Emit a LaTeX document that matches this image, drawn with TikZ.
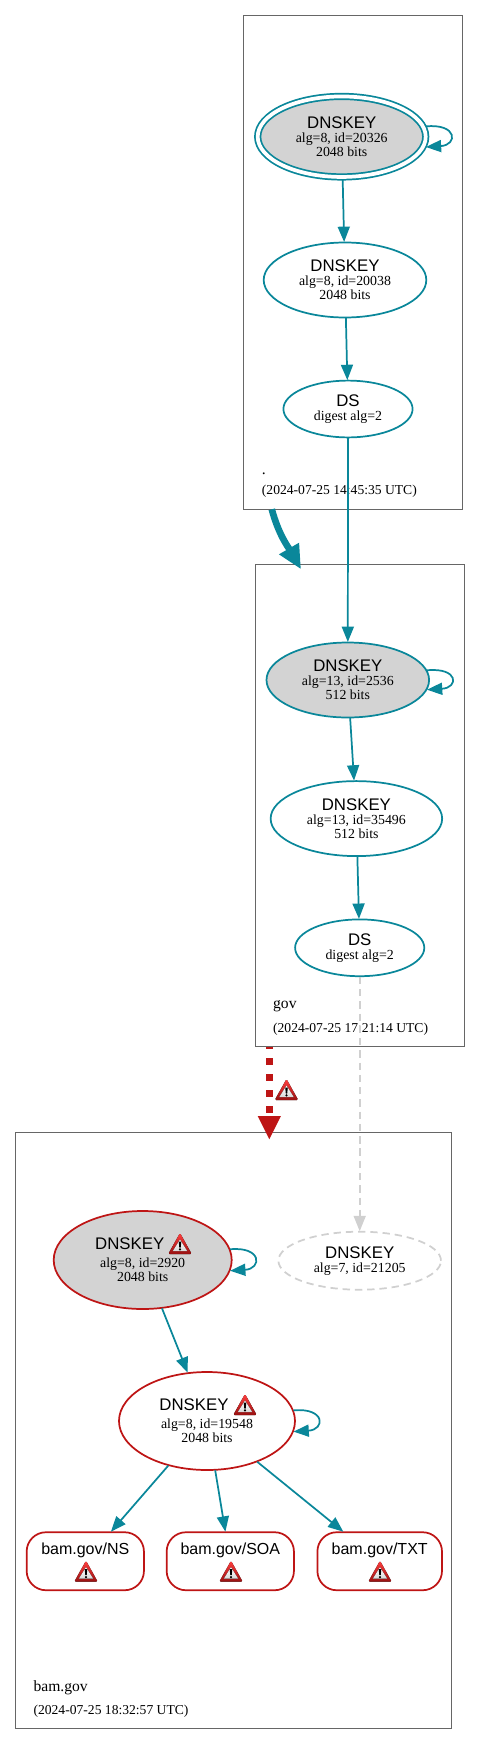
\documentclass[tikz,border=0pt]{standalone}
\usepackage{fontspec}
\setmainfont{Liberation Serif}
\newfontfamily\keyfont{Liberation Sans}
\usetikzlibrary{arrows.meta,shapes.geometric}
\definecolor{secure}{HTML}{0A879A}
\definecolor{bogus}{HTML}{BE1515}
\definecolor{faded}{HTML}{D0D0D0}
\definecolor{keyfill}{HTML}{D3D3D3}
\newcommand{\keyhead}[1]{{\keyfont\fontsize{12.6}{14}\selectfont #1}}
\newcommand{\keytext}[3]{\keyhead{#1}\\#2\\#3}
\newcommand{\warnkeytext}[3]{\keyhead{#1}\rule{19.5pt}{0pt}\\[3pt]#2\\#3}
\newcommand{\dstext}[2]{\keyhead{#1}\\#2}
\newcommand{\rrtext}[1]{{\keyfont\fontsize{12}{14}\selectfont #1}\\\rule[-6.6pt]{0pt}{6.6pt}}
\begin{document}
\begin{tikzpicture}[x=0.75pt, y=-0.75pt, >={Triangle[length=11.5pt, width=9pt]},
  zonebox/.style={draw=black!60, line width=0.7pt, inner sep=0pt},
  keynode/.style={ellipse, draw=secure, line width=1.3pt, inner sep=0pt, outer sep=0.4pt, align=center, font=\fontsize{10.4}{10.5}\selectfont, minimum width=162.6*0.75pt, minimum height=75*0.75pt},
  dsnode/.style={keynode, minimum width=129.2*0.75pt, minimum height=56.8*0.75pt},
  badkey/.style={keynode, draw=bogus, minimum width=178*0.75pt, minimum height=98*0.75pt},
  rrset/.style={rectangle, rounded corners=14.5pt, draw=bogus, line width=1.3pt, inner sep=0pt, outer sep=0.4pt, align=center, anchor=north, minimum height=58*0.75pt},
  zonename/.style={inner sep=0pt, anchor=base west, font=\fontsize{11.7}{12}\selectfont},
  zonedate/.style={inner sep=0pt, anchor=base west, font=\fontsize{10.2}{11}\selectfont},
  link/.style={->, draw=secure, line width=1.3pt},
  fadedash/.style={draw=faded, line width=1.3pt, dash pattern=on 5.5pt off 3.7pt},
  warnicon/.pic={
    \fill[rounded corners=1pt, top color=red!75!white, bottom color=bogus!80!black] (0,-21) -- (11.7,0) -- (-11.7,0) -- cycle;
    \fill[top color=white, bottom color=black!15] (0,-14.5) -- (7.2,-3) -- (-7.2,-3) -- cycle;
    \fill[black] (-1.3,-12.5) -- (1.3,-12.5) -- (0.7,-6.5) -- (-0.7,-6.5) -- cycle;
    \fill[black] (0,-4.6) circle (1.2);
  }]
  \useasboundingbox (0,0) rectangle (480,1745);
  \node[zonebox, minimum width=163.95pt, minimum height=370.2pt] (rootzone) at (353,262.5) {};
  \node[zonebox, minimum width=156.2pt, minimum height=361.8pt] (govzone) at (359.85,805.5) {};
  \node[zonebox, minimum width=327.2pt, minimum height=447.3pt] (bamzone) at (233.6,1430.5) {};

  \node[keynode, fill=keyfill, double, double distance=2.8pt, outer sep=2pt, minimum width=168*0.75pt, minimum height=80.5*0.75pt] (rootksk) at (341.7,136.7) {\keytext{DNSKEY}{alg=8, id=20326}{2048 bits}};
  \node[keynode] (rootzsk) at (345,280) {\keytext{DNSKEY}{alg=8, id=20038}{2048 bits}};
  \node[dsnode] (rootds) at (348,409) {\dstext{DS}{digest alg=2}};
  \node[zonename] (rootname) at (261.7,474) {.};
  \node[zonedate] (rootdate) at (261.7,494.5) {(2024-07-25 14:45:35 UTC)};

  \node[keynode, fill=keyfill] (govksk) at (347.8,680) {\keytext{DNSKEY}{alg=13, id=2536}{512 bits}};
  \node[keynode, minimum width=171.5*0.75pt] (govzsk) at (356.4,818.6) {\keytext{DNSKEY}{alg=13, id=35496}{512 bits}};
  \node[dsnode] (govds) at (359.7,947.8) {\dstext{DS}{digest alg=2}};
  \node[zonename] (govname) at (272.9,1008.5) {gov};
  \node[zonedate] (govdate) at (272.9,1032) {(2024-07-25 17:21:14 UTC)};

  \node[badkey, fill=keyfill] (bamksk) at (142.7,1260) {\warnkeytext{DNSKEY}{alg=8, id=2920}{2048 bits}};
  \node[keynode, fadedash, minimum height=58*0.75pt] (bamold) at (359.7,1260.7) {\dstext{DNSKEY}{alg=7, id=21205}};
  \node[badkey, minimum width=176*0.75pt] (bamzsk) at (207,1421) {\warnkeytext{DNSKEY}{alg=8, id=19548}{2048 bits}};
  \node[rrset, minimum width=117.3*0.75pt] (bamns) at (85.3,1531.7) {\rrtext{bam.gov/NS}};
  \node[rrset, minimum width=127.3*0.75pt] (bamsoa) at (230.3,1531.7) {\rrtext{bam.gov/SOA}};
  \node[rrset, minimum width=124.6*0.75pt] (bamtxt) at (379.7,1531.7) {\rrtext{bam.gov/TXT}};
  \node[zonename] (bamname) at (33.3,1691) {bam.gov};
  \node[zonedate] (bamdate) at (33.3,1714) {(2024-07-25 18:32:57 UTC)};

  \pic at (286.5,1100) {warnicon};
  \pic at (180,1254) {warnicon};
  \pic at (245,1415) {warnicon};
  \pic at (86,1581.7) {warnicon};
  \pic at (231,1581.7) {warnicon};
  \pic at (380,1581.7) {warnicon};

  \foreach \n in {rootksk,govksk,bamksk,bamzsk}
    \draw[link] (\n.7) .. controls +(32,-3) and +(32,-2) .. (\n.-7);

  \draw[link] (rootksk) -- (rootzsk);
  \draw[link] (rootzsk) -- (rootds);
  \draw[link] (rootds) -- (govksk);
  \draw[link] (govksk) -- (govzsk);
  \draw[link] (govzsk) -- (govds);
  \draw[link] (bamksk) -- (bamzsk);
  \draw[link] (bamzsk) -- (bamns);
  \draw[link] (bamzsk) -- (bamsoa);
  \draw[link] (bamzsk) -- (bamtxt);
  \draw[->, fadedash] (govds) -- (bamold);

  \coordinate (rootout) at (271.8,509.3);
  \coordinate (govin) at (301,569.3);
  \coordinate (govout) at (269.3,1046.7);
  \coordinate (bamin) at (269.3,1140);
  \draw[-{Triangle[length=18pt, width=16pt]}, draw=secure, line width=5pt] (rootout) to[out=-75, in=120] (govin);
  \draw[-{Triangle[length=18pt, width=16pt]}, draw=bogus, line width=5pt, dash pattern=on 5.25pt off 6.75pt, dash phase=3.2pt] (govout) -- (bamin);
\end{tikzpicture}
\end{document}
